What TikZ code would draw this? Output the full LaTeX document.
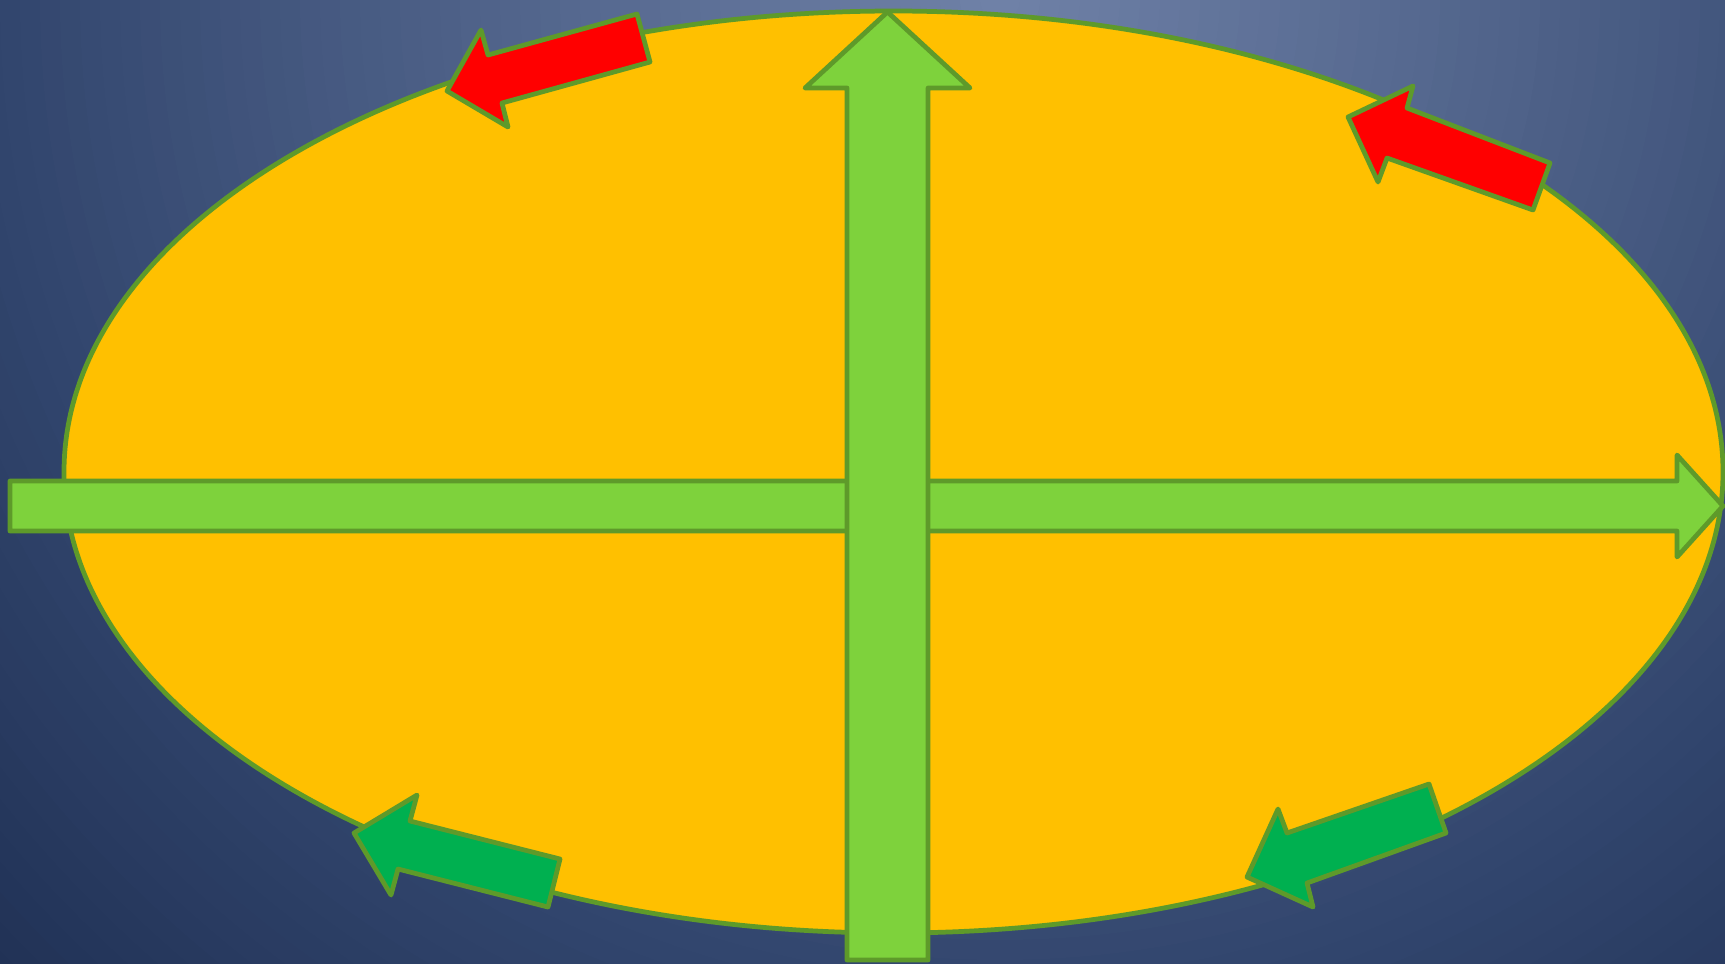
\documentclass[tikz,border=0pt]{standalone}
\definecolor{bgin}{RGB}{112,130,168}
\definecolor{bgmid}{RGB}{50,70,110}
\definecolor{bgout}{RGB}{33,50,86}
\definecolor{discfill}{HTML}{FFC000}
\definecolor{rimgreen}{RGB}{94,154,42}
\definecolor{axisgreen}{HTML}{7ED23C}
\definecolor{flowgreen}{HTML}{00B050}
\begin{document}
\begin{tikzpicture}[x=0.01cm,y=-0.01cm,
  rim/.style={draw=rimgreen,line width=1.35pt,line join=round},
  axisarrow/.style={rim,fill=axisgreen},
  redarrow/.style={rim,fill=red},
  greenarrow/.style={rim,fill=flowgreen}]
\useasboundingbox (0,0) rectangle (1725,963); \clip (0,0) rectangle (1725,963);
\fill[bgout] (0,0) rectangle (1725,963);
\foreach \r in {1400,1380,...,1000} {\pgfmathsetmacro\t{(1400-\r)/4} \fill[bgmid!\t!bgout] (1000,0) circle (\r);}
\foreach \r in {980,960,...,20} {\pgfmathsetmacro\t{(1000-\r)/10} \fill[bgin!\t!bgmid] (1000,0) circle (\r);}
\draw[rim,fill=discfill] (893.5,472) ellipse [x radius=829.5,y radius=461];
\draw[axisarrow] (10,481)--(1677,481)--(1677,455)--(1723,506)--(1677,557)--(1677,531)--(10,531)--cycle;
\draw[axisarrow] (847,960)--(847,88)--(805,88)--(887.5,12)--(970,88)--(928,88)--(928,960)--cycle;
\draw[redarrow] (447,91)--(481,30)--(488,55)--(637,14)--(650,62)--(502,103)--(508,127)--cycle;
\draw[redarrow] (1348,117)--(1413,86)--(1407,108)--(1550,163)--(1533,210)--(1387,158)--(1378,182)--cycle;
\draw[greenarrow] (354,833)--(417,795)--(410,821)--(560,859)--(548,907)--(398,869)--(391,895)--cycle;
\draw[greenarrow] (1247,877)--(1278,809)--(1287,833)--(1429,784)--(1446,833)--(1307,883)--(1313,907)--cycle;
\end{tikzpicture}
\end{document}
